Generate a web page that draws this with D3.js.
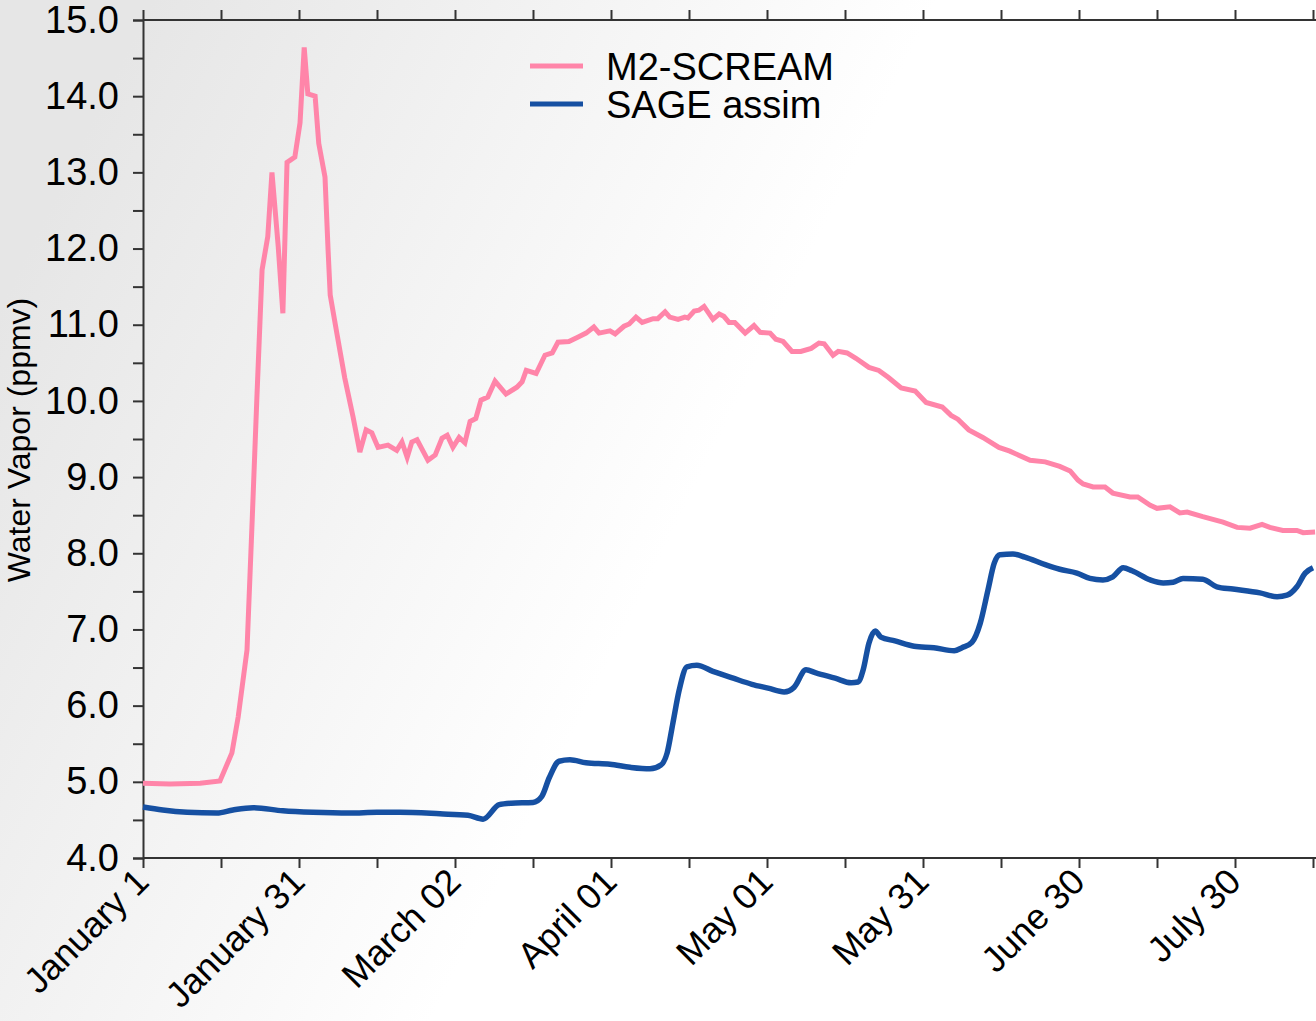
<!DOCTYPE html>
<html>
<head>
    <title>Water vapor</title>
    <script src="https://cdnjs.cloudflare.com/ajax/libs/d3/7.8.5/d3.min.js" charset="utf-8"></script>
    <style>
    body { margin:0; background:#fff; }
    svg { display:block; font-family:"Liberation Sans", Arial, Helvetica, sans-serif; }
    </style>
</head>
<body>
<div id="chart"></div>
<script>
// days since January 1 and water vapour (ppmv)
var m2Days = [0,5.2,11,14.8,17.1,18.3,20,21,21.9,22.9,24,24.8,26,26.9,27.7,29.2,30.2,31,31.7,33.1,33.8,35,35.6,36,37.3,38.8,40.4,41.7,42.9,44,45.2,47.1,48.8,49.8,50.8,51.7,52.7,54.8,56.2,57.5,58.5,59.6,60.8,61.9,62.9,64,65,66.3,67.7,69.8,71.9,72.9,73.7,75.6,77.3,78.7,79.8,81.9,83.7,85.2,86.7,87.7,89.8,90.8,92.5,93.5,94.8,96,98.1,99,100.4,101.3,102.9,104.2,104.8,106,106.9,107.9,109.6,110.8,111.7,112.7,113.8,115.8,117.5,118.7,120.6,121.7,123.1,124.8,126.5,128.5,130,131,132.7,133.7,135.4,137.1,139.6,141.5,143.3,145.8,148.5,150.6,153.7,155.4,156.7,158.8,161.5,164.6,166.7,170.6,173.5,176.3,178.3,179.8,180.8,182.7,185,186.5,189.8,191.3,193.7,195,197.5,199.4,200.8,203.8,207.7,210.4,212.9,215.2,216.7,219.2,221.9,223.1,225.4];
var m2Values = [4.98,4.97,4.98,5.01,5.38,5.85,6.73,8.44,10.04,11.72,12.16,13.0,12.03,11.15,13.13,13.2,13.65,14.64,14.03,14.0,13.38,12.94,11.97,11.39,10.88,10.30,9.79,9.33,9.62,9.58,9.39,9.42,9.35,9.46,9.26,9.46,9.49,9.22,9.29,9.51,9.55,9.39,9.52,9.45,9.73,9.77,10.01,10.05,10.26,10.09,10.18,10.25,10.40,10.36,10.60,10.63,10.77,10.78,10.84,10.89,10.97,10.89,10.92,10.88,10.98,11.01,11.10,11.03,11.08,11.08,11.17,11.10,11.07,11.10,11.09,11.18,11.19,11.24,11.07,11.14,11.11,11.03,11.03,10.89,10.99,10.90,10.89,10.81,10.78,10.65,10.65,10.69,10.76,10.75,10.60,10.65,10.63,10.56,10.44,10.40,10.31,10.17,10.13,9.98,9.92,9.81,9.76,9.62,9.52,9.39,9.34,9.22,9.20,9.14,9.08,8.96,8.91,8.87,8.87,8.79,8.74,8.74,8.63,8.59,8.61,8.53,8.54,8.48,8.41,8.34,8.33,8.38,8.34,8.30,8.30,8.27,8.28];

var sageDays = [0,3.8,8.5,14.2,17.3,21.2,26.9,32.7,39.8,45,49.4,57.1,62.5,65.4,68.5,70.8,75,76.7,78.1,80,82.1,85.2,89.8,93.7,97.5,99.6,100.8,101.9,103.1,104.6,106.5,109.6,113.5,117.1,120.2,123.3,125.2,127.5,129.4,133.1,136.2,137.5,138.5,139.6,140.8,141.9,144.6,148.3,152.1,156,157.5,159.4,161,162.5,163.7,164.8,167.3,169.6,173.5,176.3,179.6,182.1,184.6,186.5,188.5,190.2,193.7,196.2,198.1,200,203.8,206.5,209.6,214.8,218.1,220,221.9,223.5,225];
var sageValues = [4.67,4.63,4.60,4.59,4.63,4.66,4.62,4.60,4.59,4.60,4.60,4.58,4.56,4.51,4.70,4.72,4.73,4.81,5.05,5.27,5.29,5.25,5.23,5.19,5.17,5.22,5.38,5.77,6.20,6.51,6.53,6.45,6.36,6.28,6.23,6.18,6.24,6.47,6.43,6.36,6.30,6.31,6.47,6.82,6.98,6.90,6.85,6.78,6.76,6.72,6.76,6.83,7.08,7.52,7.87,7.98,7.99,7.95,7.85,7.79,7.74,7.67,7.65,7.69,7.81,7.77,7.65,7.61,7.62,7.67,7.66,7.56,7.53,7.48,7.43,7.45,7.56,7.74,7.81];

var tickDays = [0,15,30,45,60,75,90,105,120,135,150,165,180,195,210,225];
var labelDays = [0,30,60,90,120,150,180,210];
var labelNames = ['January 1','January 31','March 02','April 01','May 01','May 31','June 30','July 30'];

var seriesNames = ['M2-SCREAM','SAGE assim'];
var seriesColors = ['#ff85a9','#1650a2'];

var width = 1316;
var height = 1021;

var svg = d3.select('#chart').append('svg')
    .attr('width', width)
    .attr('height', height);

// grey-to-white background
var grad = svg.append('defs').append('linearGradient')
    .attr('id','bg')
    .attr('x1','0').attr('y1','0.3')
    .attr('x2','0.52').attr('y2','0.5');
grad.append('stop').attr('offset','0%').attr('stop-color','#e6e6e6');
grad.append('stop').attr('offset','100%').attr('stop-color','#ffffff');
svg.append('rect').attr('width',width).attr('height',height).attr('fill','url(#bg)');

var x = d3.scaleLinear().domain([0,225]).range([143,1313]);
var y = d3.scaleLinear().domain([4,15]).range([858,20]);

var axisColor = '#333';

// left axis: major ticks with labels, minor at halves
var leftAxis = svg.append('g').attr('transform','translate(143,0)')
    .call(d3.axisLeft(y).tickValues(d3.range(4,15.01,0.5)).tickSize(10)
        .tickFormat(function(d) { return d % 1 === 0 ? d3.format('.1f')(d) : ''; }));
leftAxis.selectAll('text').attr('font-size',38).attr('fill','#000').attr('dx',-11)
    .attr('font-family','Liberation Sans, Arial, sans-serif');

// bottom axis
var bottomAxis = svg.append('g').attr('transform','translate(0,858)')
    .call(d3.axisBottom(x).tickValues(tickDays).tickSize(10).tickFormat(''));

svg.selectAll('.xlab').data(labelDays).enter().append('text')
    .attr('class','xlab')
    .attr('transform', function(d) { return 'translate(' + (x(d)-10) + ',866) rotate(-45)'; })
    .attr('text-anchor','end')
    .attr('dy','0.7em')
    .attr('font-size',36)
    .text(function(d,i) { return labelNames[i]; });

// top axis, ticks outward, no labels
var topAxis = svg.append('g').attr('transform','translate(0,20)')
    .call(d3.axisTop(x).tickValues(tickDays).tickSize(10).tickFormat(''));

[leftAxis, bottomAxis, topAxis].forEach(function(g) {
    g.select('.domain').attr('stroke',axisColor).attr('stroke-width',2);
    g.selectAll('.tick line').attr('stroke',axisColor).attr('stroke-width',2);
});
// the horizontal lines run to the right edge
topAxis.select('.domain').attr('d','M143,0H1316');
bottomAxis.select('.domain').attr('d','M143,0H1316');

svg.append('text')
    .attr('transform','translate(30,440) rotate(-90)')
    .attr('text-anchor','middle')
    .attr('font-size',32)
    .text('Water Vapor (ppmv)');

// the lines
var m2 = m2Days.map(function(d,i) { return [d, m2Values[i]]; });
var sage = sageDays.map(function(d,i) { return [d, sageValues[i]]; });

svg.append('path').datum(m2)
    .attr('fill','none').attr('stroke',seriesColors[0]).attr('stroke-width',5)
    .attr('stroke-linejoin','miter')
    .attr('d', d3.line().x(function(d) { return x(d[0]); }).y(function(d) { return y(d[1]); }));

svg.append('path').datum(sage)
    .attr('fill','none').attr('stroke',seriesColors[1]).attr('stroke-width',5.5)
    .attr('stroke-linejoin','round')
    .attr('d', d3.line().curve(d3.curveMonotoneX).x(function(d) { return x(d[0]); }).y(function(d) { return y(d[1]); }));

// legend
var legend = svg.append('g');
seriesNames.forEach(function(name,i) {
    var ly = 66 + i*38;
    legend.append('line').attr('x1',530).attr('x2',583).attr('y1',ly).attr('y2',ly)
        .attr('stroke',seriesColors[i]).attr('stroke-width',5);
    legend.append('text').attr('x',606).attr('y',ly).attr('dy','0.36em')
        .attr('font-size',38).text(name);
});
</script>
</body>
</html>
